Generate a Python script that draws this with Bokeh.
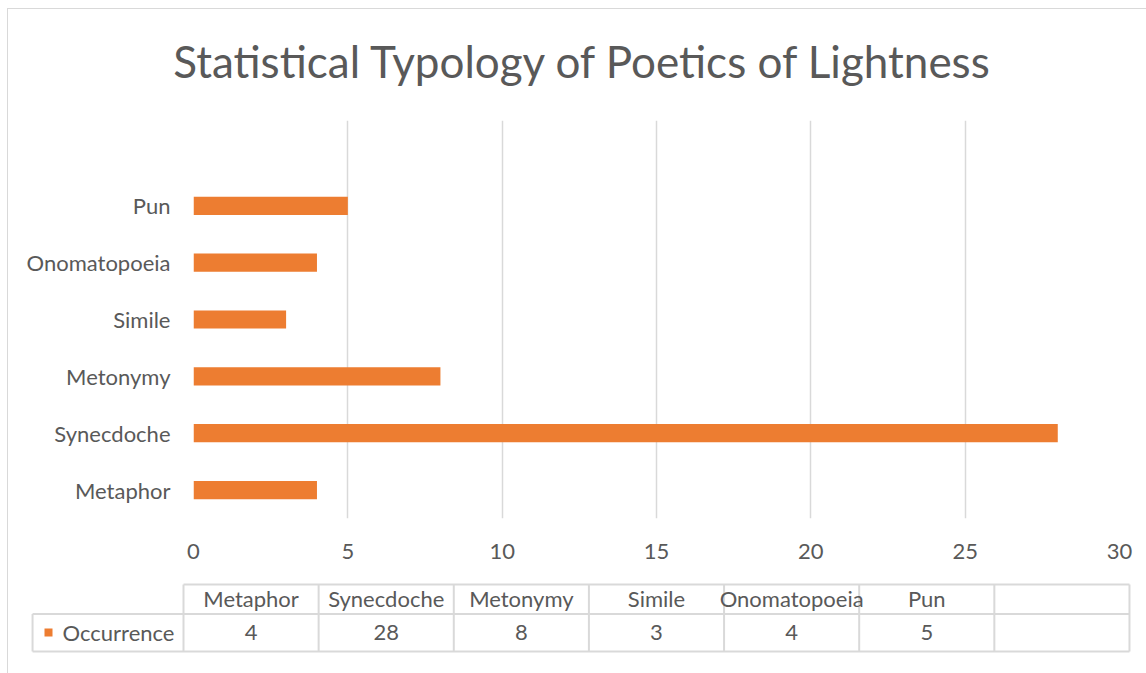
from bokeh.plotting import figure
from bokeh.models import Range1d, FactorRange, FixedTicker, ColumnDataSource
from bokeh.layouts import column
from bokeh.core.properties import value
from bokeh.embed import file_html
from bokeh.resources import INLINE

# ---- data ----
categories = ["Metaphor", "Synecdoche", "Metonymy", "Simile", "Onomatopoeia", "Pun"]
occurrence = [4, 28, 8, 3, 4, 5]
x_ticks = [0, 5, 10, 15, 20, 25, 30]
series_name = "Occurrence"
title_text = "Statistical Typology of Poetics of Lightness"

FONT = "Lato"
TXT = "#595959"
GRID = "#d9d9d9"
BAR = "#ED7D31"
FS = "22px"
W = 1138

factors = categories + [" "]  # Excel keeps an empty slot at the top

# ---- title band ----
TH = 90
h = figure(width=W, height=TH, title=None,
           x_range=Range1d(0, W), y_range=Range1d(TH, 0),
           x_axis_location=None, y_axis_location=None,
           output_backend="svg", toolbar_location=None, min_border=0)
h.frame_align = False
h.grid.visible = False
h.outline_line_color = None
h.text(x=[575], y=[51], text=[title_text], text_font=value(FONT),
       text_font_size="44px", text_color=TXT,
       text_align="center", text_baseline="middle")

# ---- bar chart ----
src = ColumnDataSource(dict(cat=categories, val=occurrence))

p = figure(width=W, height=566 - TH, title=None,
           y_range=FactorRange(factors=factors, range_padding=0),
           x_range=Range1d(0, 30),
           output_backend="svg", toolbar_location=None,
           min_border_left=185, min_border_right=27,
           min_border_top=111 - TH, min_border_bottom=57)
p.frame_align = False
p.hbar(y="cat", left=0, right="val", height=0.32, source=src,
       fill_color=BAR, line_color=None)

p.outline_line_color = None
p.ygrid.visible = False
p.xgrid.grid_line_color = GRID
p.xgrid.grid_line_width = 1.5
p.xaxis.ticker = FixedTicker(ticks=x_ticks)
for ax in (p.xaxis[0], p.yaxis[0]):
    ax.axis_line_color = None
    ax.major_tick_line_color = None
    ax.minor_tick_line_color = None
    ax.major_tick_out = 0
    ax.major_tick_in = 0
    ax.major_label_text_font = FONT
    ax.major_label_text_font_size = FS
    ax.major_label_text_color = TXT
p.xaxis.major_label_standoff = 25
p.yaxis.major_label_standoff = 23

# ---- data table below ----
ncol = len(factors)
label_left = -1.117
t = figure(width=W, height=98, title=None,
           x_range=Range1d(-1.295, 7.126), y_range=Range1d(673, 575),
           x_axis_location=None, y_axis_location=None,
           output_backend="svg", toolbar_location=None, min_border=0)
t.frame_align = False
t.grid.visible = False
t.outline_line_color = None

y_top, y_mid, y_bot = 584, 613.5, 651
hx0 = [0, label_left, label_left]
hx1 = [ncol, ncol, ncol]
hy = [y_top, y_mid, y_bot]
t.segment(x0=hx0, y0=hy, x1=hx1, y1=hy, line_color=GRID, line_width=2)
vx = [label_left] + list(range(ncol + 1))
vy0 = [y_mid] + [y_top] * (ncol + 1)
vy1 = [y_bot] * (ncol + 2)
t.segment(x0=vx, y0=vy0, x1=vx, y1=vy1, line_color=GRID, line_width=2)

cx = [i + 0.5 for i in range(len(categories))]
t.text(x=cx, y=[598] * len(categories), text=categories,
       text_font=value(FONT), text_font_size=FS, text_color=TXT,
       text_align="center", text_baseline="middle")
t.text(x=cx, y=[632] * len(categories), text=[str(v) for v in occurrence],
       text_font=value(FONT), text_font_size=FS, text_color=TXT,
       text_align="center", text_baseline="middle")
t.text(x=[-0.895], y=[632], text=[series_name],
       text_font=value(FONT), text_font_size=FS, text_color=TXT,
       text_align="left", text_baseline="middle")
t.scatter(x=[-0.999], y=[632], marker="square", size=8,
          fill_color=BAR, line_color=None)

layout = column(h, p, t, spacing=0,
                styles={"margin-left": "7px", "margin-top": "8px",
                        "border-left": "1px solid #d9d9d9",
                        "border-top": "1px solid #d9d9d9"})

open("out.html", "w").write(file_html(layout, INLINE))
